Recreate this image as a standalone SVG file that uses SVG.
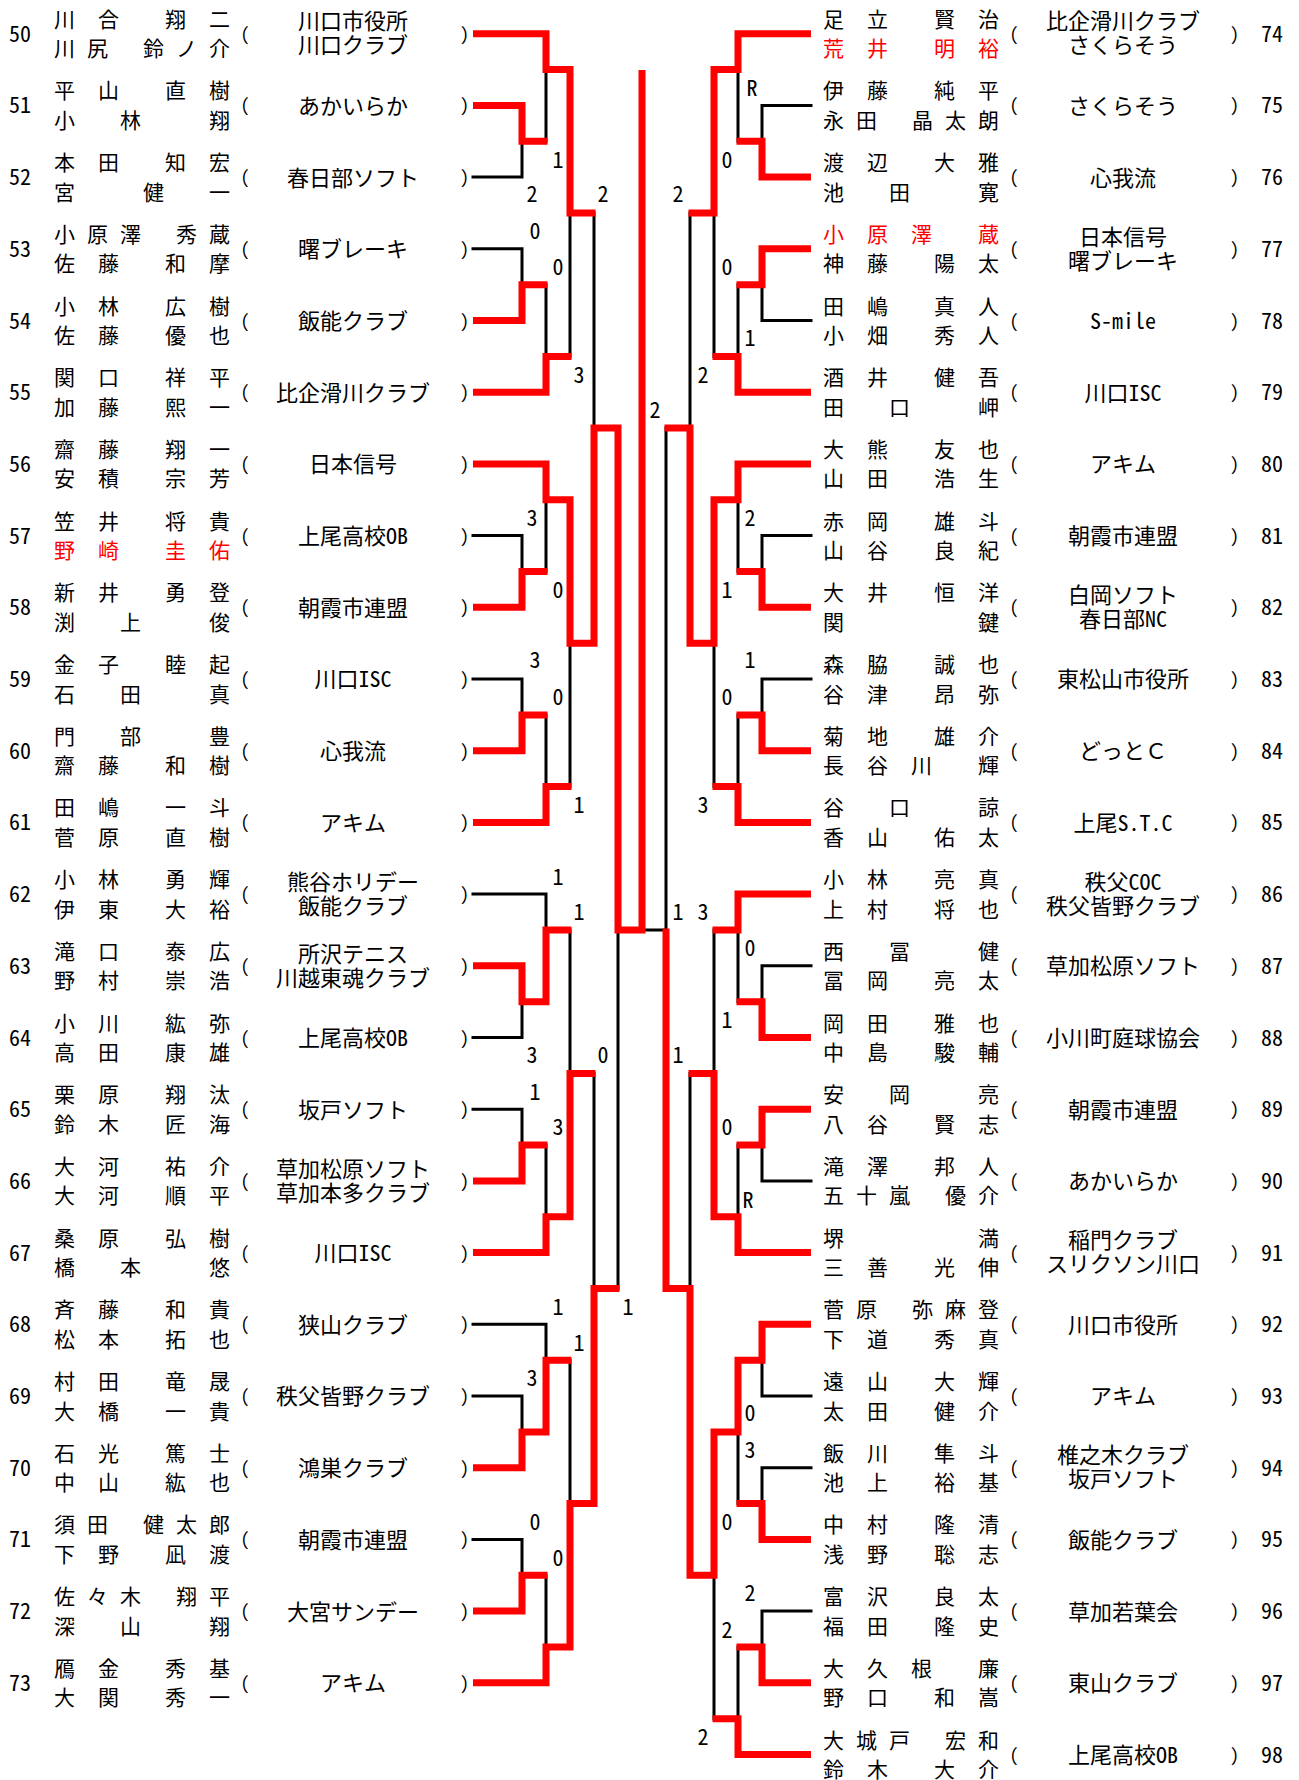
<svg xmlns="http://www.w3.org/2000/svg" width="1299" height="1780" viewBox="0 0 1299 1780">
<style>
text{font-family:"Noto Sans Mono CJK JP","Noto Sans CJK JP",sans-serif;fill:#000}
.nm{font-size:21px;text-anchor:middle}
.rd{fill:#f00}
.no{font-size:22px}
.cl{font-size:22px;text-anchor:middle}
.pr{font-size:18px;text-anchor:middle}
.sc{font-size:22px;text-anchor:middle}
.rl{fill:none;stroke:#f00;stroke-width:7;stroke-linejoin:miter;stroke-linecap:butt}
.bl{fill:none;stroke:#000;stroke-width:3;stroke-linecap:square}
</style>
<rect width="1299" height="1780" fill="#fff"/>
<g id="connectors">
<path class="bl" d="M473,177.1H522V141.3M546,141.3V69.6M473,248.8H522V284.7M546,284.7V356.4M570,356.4V213M594,213V428.1M473,535.6H522V571.5M546,571.5V499.8M473,679H522V714.9M546,714.9V786.6M570,786.6V643.2M473,894.1H546V930M473,1037.5H522V1001.7M570,930V1073.4M473,1109.2H522V1145.1M546,1145.1V1216.8M594,1073.4V1288.5M473,1324.3H546V1360.2M473,1396H522V1431.9M570,1360.2V1503.6M473,1539.4H522V1575.3M546,1575.3V1647M618,1288.5V930M642,930H666M666,428.1V930"/>
<path class="bl" d="M811,105.4H762V141.3M738,141.3V69.6M811,320.5H762V284.7M738,284.7V356.4M714,356.4V213M690,213V428.1M811,535.6H762V571.5M738,571.5V499.8M811,679H762V714.9M738,714.9V786.6M714,786.6V643.2M811,965.8H762V1001.7M738,1001.7V930M714,930V1073.4M811,1180.9H762V1145.1M738,1145.1V1216.8M690,1073.4V1288.5M811,1396H762V1360.2M811,1467.7H762V1503.6M738,1503.6V1431.9M811,1611.1H762V1647M738,1647V1718.7M714,1718.7V1575.3"/>
<polyline class="rl" points="473,33.7 546,33.7 546,69.6 570,69.6 570,213 595.5,213"/>
<polyline class="rl" points="473,105.4 522,105.4 522,141.3 547.5,141.3"/>
<polyline class="rl" points="473,320.5 522,320.5 522,284.7 547.5,284.7"/>
<polyline class="rl" points="473,392.2 546,392.2 546,356.4 571.5,356.4"/>
<polyline class="rl" points="473,463.9 546,463.9 546,499.8 570,499.8 570,643.2 594,643.2 594,428.1 618,428.1 618,930 642,930 642,70"/>
<polyline class="rl" points="473,607.3 522,607.3 522,571.5 547.5,571.5"/>
<polyline class="rl" points="473,750.7 522,750.7 522,714.9 547.5,714.9"/>
<polyline class="rl" points="473,822.4 546,822.4 546,786.6 571.5,786.6"/>
<polyline class="rl" points="473,965.8 522,965.8 522,1001.7 546,1001.7 546,930 571.5,930"/>
<polyline class="rl" points="473,1180.9 522,1180.9 522,1145.1 547.5,1145.1"/>
<polyline class="rl" points="473,1252.6 546,1252.6 546,1216.8 570,1216.8 570,1073.4 595.5,1073.4"/>
<polyline class="rl" points="473,1467.7 522,1467.7 522,1431.9 546,1431.9 546,1360.2 571.5,1360.2"/>
<polyline class="rl" points="473,1611.1 522,1611.1 522,1575.3 547.5,1575.3"/>
<polyline class="rl" points="473,1682.8 546,1682.8 546,1647 570,1647 570,1503.6 594,1503.6 594,1288.5 619.5,1288.5"/>
<polyline class="rl" points="811,33.7 738,33.7 738,69.6 714,69.6 714,213 688.5,213"/>
<polyline class="rl" points="811,177.1 762,177.1 762,141.3 736.5,141.3"/>
<polyline class="rl" points="811,248.8 762,248.8 762,284.7 736.5,284.7"/>
<polyline class="rl" points="811,392.2 738,392.2 738,356.4 712.5,356.4"/>
<polyline class="rl" points="811,463.9 738,463.9 738,499.8 714,499.8 714,643.2 690,643.2 690,428.1 664.5,428.1"/>
<polyline class="rl" points="811,607.3 762,607.3 762,571.5 736.5,571.5"/>
<polyline class="rl" points="811,750.7 762,750.7 762,714.9 736.5,714.9"/>
<polyline class="rl" points="811,822.4 738,822.4 738,786.6 712.5,786.6"/>
<polyline class="rl" points="811,894.1 738,894.1 738,930 712.5,930"/>
<polyline class="rl" points="811,1037.5 762,1037.5 762,1001.7 736.5,1001.7"/>
<polyline class="rl" points="811,1109.2 762,1109.2 762,1145.1 736.5,1145.1"/>
<polyline class="rl" points="811,1252.6 738,1252.6 738,1216.8 714,1216.8 714,1073.4 688.5,1073.4"/>
<polyline class="rl" points="811,1324.3 762,1324.3 762,1360.2 738,1360.2 738,1431.9 714,1431.9 714,1575.3 690,1575.3 690,1288.5 666,1288.5 666,928.5"/>
<polyline class="rl" points="811,1539.4 762,1539.4 762,1503.6 736.5,1503.6"/>
<polyline class="rl" points="811,1682.8 762,1682.8 762,1647 736.5,1647"/>
<polyline class="rl" points="811,1754.5 738,1754.5 738,1718.7 712.5,1718.7"/>
</g>
<g id="scores">
<text class="sc" x="558" y="168">1</text><text class="sc" x="532" y="202">2</text><text class="sc" x="603" y="202">2</text><text class="sc" x="535" y="239">0</text><text class="sc" x="558" y="275">0</text><text class="sc" x="579" y="383">3</text><text class="sc" x="655" y="418">2</text>
<text class="sc" x="532" y="526">3</text><text class="sc" x="558" y="598">0</text><text class="sc" x="535" y="668">3</text><text class="sc" x="558" y="705">0</text><text class="sc" x="579" y="813">1</text>
<text class="sc" x="558" y="885">1</text><text class="sc" x="579" y="920">1</text><text class="sc" x="532" y="1063">3</text><text class="sc" x="603" y="1063">0</text><text class="sc" x="535" y="1100">1</text><text class="sc" x="558" y="1135">3</text>
<text class="sc" x="558" y="1315">1</text><text class="sc" x="628" y="1315">1</text><text class="sc" x="579" y="1351">1</text><text class="sc" x="532" y="1386">3</text><text class="sc" x="535" y="1530">0</text><text class="sc" x="558" y="1566">0</text>
<text class="sc" x="752" y="96">R</text><text class="sc" x="727" y="168">0</text><text class="sc" x="678" y="202">2</text><text class="sc" x="727" y="275">0</text><text class="sc" x="750" y="346">1</text><text class="sc" x="703" y="383">2</text>
<text class="sc" x="750" y="526">2</text><text class="sc" x="727" y="598">1</text><text class="sc" x="750" y="668">1</text><text class="sc" x="727" y="705">0</text><text class="sc" x="703" y="813">3</text>
<text class="sc" x="678" y="920">1</text><text class="sc" x="703" y="920">3</text><text class="sc" x="750" y="956">0</text><text class="sc" x="727" y="1028">1</text><text class="sc" x="678" y="1063">1</text><text class="sc" x="727" y="1135">0</text><text class="sc" x="748" y="1208">R</text>
<text class="sc" x="750" y="1421">0</text><text class="sc" x="750" y="1458">3</text><text class="sc" x="727" y="1530">0</text><text class="sc" x="750" y="1601">2</text><text class="sc" x="727" y="1638">2</text><text class="sc" x="703" y="1745">2</text>
</g>
<g id="p50" transform="translate(0,33.7)"><text class="no" x="9" y="8">50</text><text class="nm" x="64.5 108.5 175.5 219.5" y="-7">川合翔二</text><text class="nm" x="64.5 97.5 153.5 186.5 219.5" y="22.5">川尻鈴ノ介</text><text class="pr" x="245" y="7">(</text><text class="cl" x="353" y="-4.3">川口市役所</text><text class="cl" x="353" y="19.7">川口クラブ</text><text class="pr" x="464.5" y="7">)</text></g>
<g id="p51" transform="translate(0,105.4)"><text class="no" x="9" y="8">51</text><text class="nm" x="64.5 108.5 175.5 219.5" y="-7">平山直樹</text><text class="nm" x="64.5 130.5 219.5" y="22.5">小林翔</text><text class="pr" x="245" y="7">(</text><text class="cl" x="353" y="8.4">あかいらか</text><text class="pr" x="464.5" y="7">)</text></g>
<g id="p52" transform="translate(0,177.1)"><text class="no" x="9" y="8">52</text><text class="nm" x="64.5 108.5 175.5 219.5" y="-7">本田知宏</text><text class="nm" x="64.5 153.5 219.5" y="22.5">宮健一</text><text class="pr" x="245" y="7">(</text><text class="cl" x="353" y="8.4">春日部ソフト</text><text class="pr" x="464.5" y="7">)</text></g>
<g id="p53" transform="translate(0,248.8)"><text class="no" x="9" y="8">53</text><text class="nm" x="64.5 97.5 130.5 186.5 219.5" y="-7">小原澤秀蔵</text><text class="nm" x="64.5 108.5 175.5 219.5" y="22.5">佐藤和摩</text><text class="pr" x="245" y="7">(</text><text class="cl" x="353" y="8.4">曙ブレーキ</text><text class="pr" x="464.5" y="7">)</text></g>
<g id="p54" transform="translate(0,320.5)"><text class="no" x="9" y="8">54</text><text class="nm" x="64.5 108.5 175.5 219.5" y="-7">小林広樹</text><text class="nm" x="64.5 108.5 175.5 219.5" y="22.5">佐藤優也</text><text class="pr" x="245" y="7">(</text><text class="cl" x="353" y="8.4">飯能クラブ</text><text class="pr" x="464.5" y="7">)</text></g>
<g id="p55" transform="translate(0,392.2)"><text class="no" x="9" y="8">55</text><text class="nm" x="64.5 108.5 175.5 219.5" y="-7">関口祥平</text><text class="nm" x="64.5 108.5 175.5 219.5" y="22.5">加藤熙一</text><text class="pr" x="245" y="7">(</text><text class="cl" x="353" y="8.4">比企滑川クラブ</text><text class="pr" x="464.5" y="7">)</text></g>
<g id="p56" transform="translate(0,463.9)"><text class="no" x="9" y="8">56</text><text class="nm" x="64.5 108.5 175.5 219.5" y="-7">齋藤翔一</text><text class="nm" x="64.5 108.5 175.5 219.5" y="22.5">安積宗芳</text><text class="pr" x="245" y="7">(</text><text class="cl" x="353" y="8.4">日本信号</text><text class="pr" x="464.5" y="7">)</text></g>
<g id="p57" transform="translate(0,535.6)"><text class="no" x="9" y="8">57</text><text class="nm" x="64.5 108.5 175.5 219.5" y="-7">笠井将貴</text><text class="nm rd" x="64.5 108.5 175.5 219.5" y="22.5">野崎圭佑</text><text class="pr" x="245" y="7">(</text><text class="cl" x="353" y="8.4">上尾高校OB</text><text class="pr" x="464.5" y="7">)</text></g>
<g id="p58" transform="translate(0,607.3)"><text class="no" x="9" y="8">58</text><text class="nm" x="64.5 108.5 175.5 219.5" y="-7">新井勇登</text><text class="nm" x="64.5 130.5 219.5" y="22.5">渕上俊</text><text class="pr" x="245" y="7">(</text><text class="cl" x="353" y="8.4">朝霞市連盟</text><text class="pr" x="464.5" y="7">)</text></g>
<g id="p59" transform="translate(0,679)"><text class="no" x="9" y="8">59</text><text class="nm" x="64.5 108.5 175.5 219.5" y="-7">金子睦起</text><text class="nm" x="64.5 130.5 219.5" y="22.5">石田真</text><text class="pr" x="245" y="7">(</text><text class="cl" x="353" y="8.4">川口ISC</text><text class="pr" x="464.5" y="7">)</text></g>
<g id="p60" transform="translate(0,750.7)"><text class="no" x="9" y="8">60</text><text class="nm" x="64.5 130.5 219.5" y="-7">門部豊</text><text class="nm" x="64.5 108.5 175.5 219.5" y="22.5">齋藤和樹</text><text class="pr" x="245" y="7">(</text><text class="cl" x="353" y="8.4">心我流</text><text class="pr" x="464.5" y="7">)</text></g>
<g id="p61" transform="translate(0,822.4)"><text class="no" x="9" y="8">61</text><text class="nm" x="64.5 108.5 175.5 219.5" y="-7">田嶋一斗</text><text class="nm" x="64.5 108.5 175.5 219.5" y="22.5">菅原直樹</text><text class="pr" x="245" y="7">(</text><text class="cl" x="353" y="8.4">アキム</text><text class="pr" x="464.5" y="7">)</text></g>
<g id="p62" transform="translate(0,894.1)"><text class="no" x="9" y="8">62</text><text class="nm" x="64.5 108.5 175.5 219.5" y="-7">小林勇輝</text><text class="nm" x="64.5 108.5 175.5 219.5" y="22.5">伊東大裕</text><text class="pr" x="245" y="7">(</text><text class="cl" x="353" y="-4.3">熊谷ホリデー</text><text class="cl" x="353" y="19.7">飯能クラブ</text><text class="pr" x="464.5" y="7">)</text></g>
<g id="p63" transform="translate(0,965.8)"><text class="no" x="9" y="8">63</text><text class="nm" x="64.5 108.5 175.5 219.5" y="-7">滝口泰広</text><text class="nm" x="64.5 108.5 175.5 219.5" y="22.5">野村崇浩</text><text class="pr" x="245" y="7">(</text><text class="cl" x="353" y="-4.3">所沢テニス</text><text class="cl" x="353" y="19.7">川越東魂クラブ</text><text class="pr" x="464.5" y="7">)</text></g>
<g id="p64" transform="translate(0,1037.5)"><text class="no" x="9" y="8">64</text><text class="nm" x="64.5 108.5 175.5 219.5" y="-7">小川紘弥</text><text class="nm" x="64.5 108.5 175.5 219.5" y="22.5">高田康雄</text><text class="pr" x="245" y="7">(</text><text class="cl" x="353" y="8.4">上尾高校OB</text><text class="pr" x="464.5" y="7">)</text></g>
<g id="p65" transform="translate(0,1109.2)"><text class="no" x="9" y="8">65</text><text class="nm" x="64.5 108.5 175.5 219.5" y="-7">栗原翔汰</text><text class="nm" x="64.5 108.5 175.5 219.5" y="22.5">鈴木匠海</text><text class="pr" x="245" y="7">(</text><text class="cl" x="353" y="8.4">坂戸ソフト</text><text class="pr" x="464.5" y="7">)</text></g>
<g id="p66" transform="translate(0,1180.9)"><text class="no" x="9" y="8">66</text><text class="nm" x="64.5 108.5 175.5 219.5" y="-7">大河祐介</text><text class="nm" x="64.5 108.5 175.5 219.5" y="22.5">大河順平</text><text class="pr" x="245" y="7">(</text><text class="cl" x="353" y="-4.3">草加松原ソフト</text><text class="cl" x="353" y="19.7">草加本多クラブ</text><text class="pr" x="464.5" y="7">)</text></g>
<g id="p67" transform="translate(0,1252.6)"><text class="no" x="9" y="8">67</text><text class="nm" x="64.5 108.5 175.5 219.5" y="-7">桑原弘樹</text><text class="nm" x="64.5 130.5 219.5" y="22.5">橋本悠</text><text class="pr" x="245" y="7">(</text><text class="cl" x="353" y="8.4">川口ISC</text><text class="pr" x="464.5" y="7">)</text></g>
<g id="p68" transform="translate(0,1324.3)"><text class="no" x="9" y="8">68</text><text class="nm" x="64.5 108.5 175.5 219.5" y="-7">斉藤和貴</text><text class="nm" x="64.5 108.5 175.5 219.5" y="22.5">松本拓也</text><text class="pr" x="245" y="7">(</text><text class="cl" x="353" y="8.4">狭山クラブ</text><text class="pr" x="464.5" y="7">)</text></g>
<g id="p69" transform="translate(0,1396)"><text class="no" x="9" y="8">69</text><text class="nm" x="64.5 108.5 175.5 219.5" y="-7">村田竜晟</text><text class="nm" x="64.5 108.5 175.5 219.5" y="22.5">大橋一貴</text><text class="pr" x="245" y="7">(</text><text class="cl" x="353" y="8.4">秩父皆野クラブ</text><text class="pr" x="464.5" y="7">)</text></g>
<g id="p70" transform="translate(0,1467.7)"><text class="no" x="9" y="8">70</text><text class="nm" x="64.5 108.5 175.5 219.5" y="-7">石光篤士</text><text class="nm" x="64.5 108.5 175.5 219.5" y="22.5">中山紘也</text><text class="pr" x="245" y="7">(</text><text class="cl" x="353" y="8.4">鴻巣クラブ</text><text class="pr" x="464.5" y="7">)</text></g>
<g id="p71" transform="translate(0,1539.4)"><text class="no" x="9" y="8">71</text><text class="nm" x="64.5 97.5 153.5 186.5 219.5" y="-7">須田健太郎</text><text class="nm" x="64.5 108.5 175.5 219.5" y="22.5">下野凪渡</text><text class="pr" x="245" y="7">(</text><text class="cl" x="353" y="8.4">朝霞市連盟</text><text class="pr" x="464.5" y="7">)</text></g>
<g id="p72" transform="translate(0,1611.1)"><text class="no" x="9" y="8">72</text><text class="nm" x="64.5 97.5 130.5 186.5 219.5" y="-7">佐々木翔平</text><text class="nm" x="64.5 130.5 219.5" y="22.5">深山翔</text><text class="pr" x="245" y="7">(</text><text class="cl" x="353" y="8.4">大宮サンデー</text><text class="pr" x="464.5" y="7">)</text></g>
<g id="p73" transform="translate(0,1682.8)"><text class="no" x="9" y="8">73</text><text class="nm" x="64.5 108.5 175.5 219.5" y="-7">鴈金秀基</text><text class="nm" x="64.5 108.5 175.5 219.5" y="22.5">大関秀一</text><text class="pr" x="245" y="7">(</text><text class="cl" x="353" y="8.4">アキム</text><text class="pr" x="464.5" y="7">)</text></g>
<g id="p74" transform="translate(769,33.7)"><text class="nm" x="64.5 108.5 175.5 219.5" y="-7">足立賢治</text><text class="nm rd" x="64.5 108.5 175.5 219.5" y="22.5">荒井明裕</text><text class="pr" x="245" y="7">(</text><text class="cl" x="354" y="-4.3">比企滑川クラブ</text><text class="cl" x="354" y="19.7">さくらそう</text><text class="pr" x="465.5" y="7">)</text><text class="no" x="492" y="8">74</text></g>
<g id="p75" transform="translate(769,105.4)"><text class="nm" x="64.5 108.5 175.5 219.5" y="-7">伊藤純平</text><text class="nm" x="64.5 97.5 153.5 186.5 219.5" y="22.5">永田晶太朗</text><text class="pr" x="245" y="7">(</text><text class="cl" x="354" y="8.4">さくらそう</text><text class="pr" x="465.5" y="7">)</text><text class="no" x="492" y="8">75</text></g>
<g id="p76" transform="translate(769,177.1)"><text class="nm" x="64.5 108.5 175.5 219.5" y="-7">渡辺大雅</text><text class="nm" x="64.5 130.5 219.5" y="22.5">池田寛</text><text class="pr" x="245" y="7">(</text><text class="cl" x="354" y="8.4">心我流</text><text class="pr" x="465.5" y="7">)</text><text class="no" x="492" y="8">76</text></g>
<g id="p77" transform="translate(769,248.8)"><text class="nm rd" x="64.5 108.5 152.5 219.5" y="-7">小原澤蔵</text><text class="nm" x="64.5 108.5 175.5 219.5" y="22.5">神藤陽太</text><text class="pr" x="245" y="7">(</text><text class="cl" x="354" y="-4.3">日本信号</text><text class="cl" x="354" y="19.7">曙ブレーキ</text><text class="pr" x="465.5" y="7">)</text><text class="no" x="492" y="8">77</text></g>
<g id="p78" transform="translate(769,320.5)"><text class="nm" x="64.5 108.5 175.5 219.5" y="-7">田嶋真人</text><text class="nm" x="64.5 108.5 175.5 219.5" y="22.5">小畑秀人</text><text class="pr" x="245" y="7">(</text><text class="cl" x="354" y="8.4">S-mile</text><text class="pr" x="465.5" y="7">)</text><text class="no" x="492" y="8">78</text></g>
<g id="p79" transform="translate(769,392.2)"><text class="nm" x="64.5 108.5 175.5 219.5" y="-7">酒井健吾</text><text class="nm" x="64.5 130.5 219.5" y="22.5">田口岬</text><text class="pr" x="245" y="7">(</text><text class="cl" x="354" y="8.4">川口ISC</text><text class="pr" x="465.5" y="7">)</text><text class="no" x="492" y="8">79</text></g>
<g id="p80" transform="translate(769,463.9)"><text class="nm" x="64.5 108.5 175.5 219.5" y="-7">大熊友也</text><text class="nm" x="64.5 108.5 175.5 219.5" y="22.5">山田浩生</text><text class="pr" x="245" y="7">(</text><text class="cl" x="354" y="8.4">アキム</text><text class="pr" x="465.5" y="7">)</text><text class="no" x="492" y="8">80</text></g>
<g id="p81" transform="translate(769,535.6)"><text class="nm" x="64.5 108.5 175.5 219.5" y="-7">赤岡雄斗</text><text class="nm" x="64.5 108.5 175.5 219.5" y="22.5">山谷良紀</text><text class="pr" x="245" y="7">(</text><text class="cl" x="354" y="8.4">朝霞市連盟</text><text class="pr" x="465.5" y="7">)</text><text class="no" x="492" y="8">81</text></g>
<g id="p82" transform="translate(769,607.3)"><text class="nm" x="64.5 108.5 175.5 219.5" y="-7">大井恒洋</text><text class="nm" x="64.5 219.5" y="22.5">関鍵</text><text class="pr" x="245" y="7">(</text><text class="cl" x="354" y="-4.3">白岡ソフト</text><text class="cl" x="354" y="19.7">春日部NC</text><text class="pr" x="465.5" y="7">)</text><text class="no" x="492" y="8">82</text></g>
<g id="p83" transform="translate(769,679)"><text class="nm" x="64.5 108.5 175.5 219.5" y="-7">森脇誠也</text><text class="nm" x="64.5 108.5 175.5 219.5" y="22.5">谷津昂弥</text><text class="pr" x="245" y="7">(</text><text class="cl" x="354" y="8.4">東松山市役所</text><text class="pr" x="465.5" y="7">)</text><text class="no" x="492" y="8">83</text></g>
<g id="p84" transform="translate(769,750.7)"><text class="nm" x="64.5 108.5 175.5 219.5" y="-7">菊地雄介</text><text class="nm" x="64.5 108.5 152.5 219.5" y="22.5">長谷川輝</text><text class="pr" x="245" y="7">(</text><text class="cl" x="354" y="8.4">どっとＣ</text><text class="pr" x="465.5" y="7">)</text><text class="no" x="492" y="8">84</text></g>
<g id="p85" transform="translate(769,822.4)"><text class="nm" x="64.5 130.5 219.5" y="-7">谷口諒</text><text class="nm" x="64.5 108.5 175.5 219.5" y="22.5">香山佑太</text><text class="pr" x="245" y="7">(</text><text class="cl" x="354" y="8.4">上尾S.T.C</text><text class="pr" x="465.5" y="7">)</text><text class="no" x="492" y="8">85</text></g>
<g id="p86" transform="translate(769,894.1)"><text class="nm" x="64.5 108.5 175.5 219.5" y="-7">小林亮真</text><text class="nm" x="64.5 108.5 175.5 219.5" y="22.5">上村将也</text><text class="pr" x="245" y="7">(</text><text class="cl" x="354" y="-4.3">秩父COC</text><text class="cl" x="354" y="19.7">秩父皆野クラブ</text><text class="pr" x="465.5" y="7">)</text><text class="no" x="492" y="8">86</text></g>
<g id="p87" transform="translate(769,965.8)"><text class="nm" x="64.5 130.5 219.5" y="-7">西冨健</text><text class="nm" x="64.5 108.5 175.5 219.5" y="22.5">冨岡亮太</text><text class="pr" x="245" y="7">(</text><text class="cl" x="354" y="8.4">草加松原ソフト</text><text class="pr" x="465.5" y="7">)</text><text class="no" x="492" y="8">87</text></g>
<g id="p88" transform="translate(769,1037.5)"><text class="nm" x="64.5 108.5 175.5 219.5" y="-7">岡田雅也</text><text class="nm" x="64.5 108.5 175.5 219.5" y="22.5">中島駿輔</text><text class="pr" x="245" y="7">(</text><text class="cl" x="354" y="8.4">小川町庭球協会</text><text class="pr" x="465.5" y="7">)</text><text class="no" x="492" y="8">88</text></g>
<g id="p89" transform="translate(769,1109.2)"><text class="nm" x="64.5 130.5 219.5" y="-7">安岡亮</text><text class="nm" x="64.5 108.5 175.5 219.5" y="22.5">八谷賢志</text><text class="pr" x="245" y="7">(</text><text class="cl" x="354" y="8.4">朝霞市連盟</text><text class="pr" x="465.5" y="7">)</text><text class="no" x="492" y="8">89</text></g>
<g id="p90" transform="translate(769,1180.9)"><text class="nm" x="64.5 108.5 175.5 219.5" y="-7">滝澤邦人</text><text class="nm" x="64.5 97.5 130.5 186.5 219.5" y="22.5">五十嵐優介</text><text class="pr" x="245" y="7">(</text><text class="cl" x="354" y="8.4">あかいらか</text><text class="pr" x="465.5" y="7">)</text><text class="no" x="492" y="8">90</text></g>
<g id="p91" transform="translate(769,1252.6)"><text class="nm" x="64.5 219.5" y="-7">堺満</text><text class="nm" x="64.5 108.5 175.5 219.5" y="22.5">三善光伸</text><text class="pr" x="245" y="7">(</text><text class="cl" x="354" y="-4.3">稲門クラブ</text><text class="cl" x="354" y="19.7">スリクソン川口</text><text class="pr" x="465.5" y="7">)</text><text class="no" x="492" y="8">91</text></g>
<g id="p92" transform="translate(769,1324.3)"><text class="nm" x="64.5 97.5 153.5 186.5 219.5" y="-7">菅原弥麻登</text><text class="nm" x="64.5 108.5 175.5 219.5" y="22.5">下道秀真</text><text class="pr" x="245" y="7">(</text><text class="cl" x="354" y="8.4">川口市役所</text><text class="pr" x="465.5" y="7">)</text><text class="no" x="492" y="8">92</text></g>
<g id="p93" transform="translate(769,1396)"><text class="nm" x="64.5 108.5 175.5 219.5" y="-7">遠山大輝</text><text class="nm" x="64.5 108.5 175.5 219.5" y="22.5">太田健介</text><text class="pr" x="245" y="7">(</text><text class="cl" x="354" y="8.4">アキム</text><text class="pr" x="465.5" y="7">)</text><text class="no" x="492" y="8">93</text></g>
<g id="p94" transform="translate(769,1467.7)"><text class="nm" x="64.5 108.5 175.5 219.5" y="-7">飯川隼斗</text><text class="nm" x="64.5 108.5 175.5 219.5" y="22.5">池上裕基</text><text class="pr" x="245" y="7">(</text><text class="cl" x="354" y="-4.3">椎之木クラブ</text><text class="cl" x="354" y="19.7">坂戸ソフト</text><text class="pr" x="465.5" y="7">)</text><text class="no" x="492" y="8">94</text></g>
<g id="p95" transform="translate(769,1539.4)"><text class="nm" x="64.5 108.5 175.5 219.5" y="-7">中村隆清</text><text class="nm" x="64.5 108.5 175.5 219.5" y="22.5">浅野聡志</text><text class="pr" x="245" y="7">(</text><text class="cl" x="354" y="8.4">飯能クラブ</text><text class="pr" x="465.5" y="7">)</text><text class="no" x="492" y="8">95</text></g>
<g id="p96" transform="translate(769,1611.1)"><text class="nm" x="64.5 108.5 175.5 219.5" y="-7">富沢良太</text><text class="nm" x="64.5 108.5 175.5 219.5" y="22.5">福田隆史</text><text class="pr" x="245" y="7">(</text><text class="cl" x="354" y="8.4">草加若葉会</text><text class="pr" x="465.5" y="7">)</text><text class="no" x="492" y="8">96</text></g>
<g id="p97" transform="translate(769,1682.8)"><text class="nm" x="64.5 108.5 152.5 219.5" y="-7">大久根廉</text><text class="nm" x="64.5 108.5 175.5 219.5" y="22.5">野口和嵩</text><text class="pr" x="245" y="7">(</text><text class="cl" x="354" y="8.4">東山クラブ</text><text class="pr" x="465.5" y="7">)</text><text class="no" x="492" y="8">97</text></g>
<g id="p98" transform="translate(769,1754.5)"><text class="nm" x="64.5 97.5 130.5 186.5 219.5" y="-7">大城戸宏和</text><text class="nm" x="64.5 108.5 175.5 219.5" y="22.5">鈴木大介</text><text class="pr" x="245" y="7">(</text><text class="cl" x="354" y="8.4">上尾高校OB</text><text class="pr" x="465.5" y="7">)</text><text class="no" x="492" y="8">98</text></g>
</svg>
